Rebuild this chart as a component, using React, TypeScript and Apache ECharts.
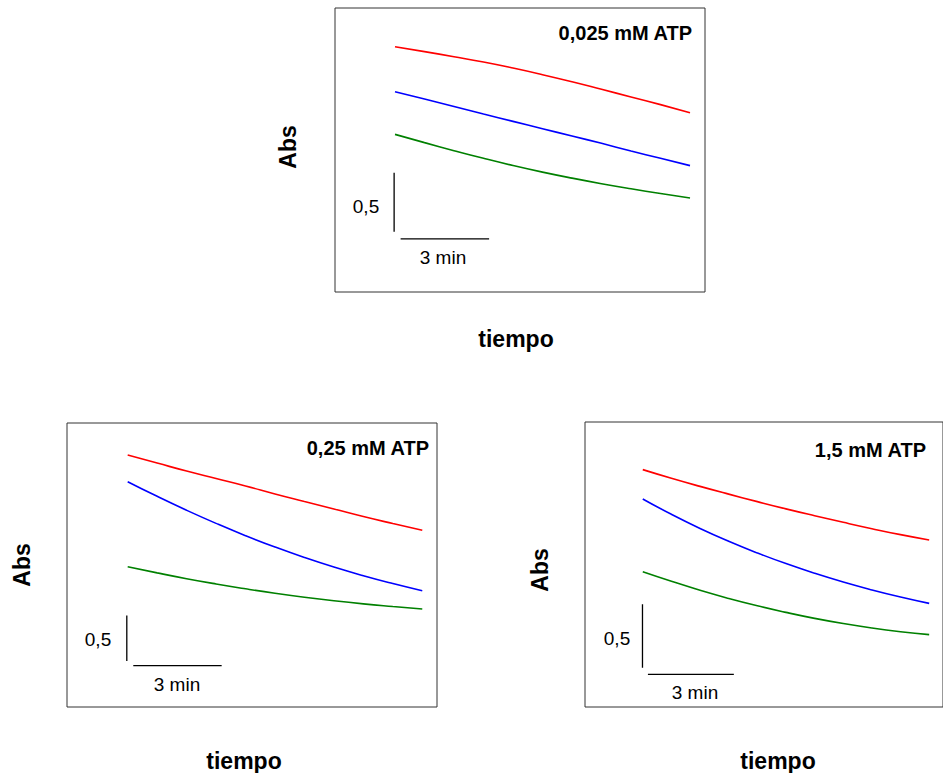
import React, { useEffect, useRef } from "react";
import * as echarts from "echarts";

// Sampling times (min) for every trace
const TIME = [0, 1, 2, 3, 4, 5, 6, 7, 8, 9, 10];

// 0,025 mM ATP
const ATP_0025_RED = [2.079, 2.037, 1.994, 1.949, 1.898, 1.842, 1.782, 1.718, 1.653, 1.588, 1.52];
const ATP_0025_BLUE = [1.698, 1.636, 1.573, 1.508, 1.446, 1.384, 1.322, 1.26, 1.195, 1.133, 1.071];
const ATP_0025_GREEN = [1.336, 1.266, 1.198, 1.133, 1.072, 1.016, 0.965, 0.918, 0.875, 0.835, 0.797];

// 0,25 mM ATP
const ATP_025_RED = [2.769, 2.681, 2.593, 2.511, 2.429, 2.341, 2.258, 2.176, 2.093, 2.016, 1.942];
const ATP_025_BLUE = [2.476, 2.315, 2.162, 2.018, 1.883, 1.758, 1.643, 1.538, 1.443, 1.357, 1.278];
const ATP_025_GREEN = [1.542, 1.474, 1.41, 1.352, 1.299, 1.25, 1.206, 1.167, 1.133, 1.104, 1.077];

// 1,5 mM ATP
const ATP_15_RED = [1.869, 1.801, 1.737, 1.676, 1.617, 1.56, 1.506, 1.454, 1.404, 1.357, 1.315];
const ATP_15_BLUE = [1.638, 1.517, 1.406, 1.305, 1.213, 1.129, 1.053, 0.984, 0.922, 0.866, 0.816];
const ATP_15_GREEN = [1.065, 0.99, 0.919, 0.855, 0.797, 0.745, 0.698, 0.657, 0.622, 0.593, 0.57];

const TITLES = ["0,025 mM ATP", "0,25 mM ATP", "1,5 mM ATP"];

// Scale bar sizes
const SCALE_ABS = 0.5;
const SCALE_MIN = 3;
const SCALE_ABS_LABEL = "0,5";
const SCALE_MIN_LABEL = "3 min";

const COLORS = ["#ff0000", "#0000ff", "#008000"];
const FONT = "'Liberation Sans', Arial, Helvetica, sans-serif";

type Panel = {
  grid: { left: number; top: number; width: number; height: number };
  xr: [number, number];
  yr: [number, number];
  traces: number[][];
  bar: { tv: number; a0: number; th: number; ah: number };
  title: [number, number];
  absLbl: [number, number];
  timeLbl: [number, number];
  scaleAbsLbl: [number, number];
  scaleMinLbl: [number, number];
};

const PANELS: Panel[] = [
  {
    grid: { left: 335, top: 8, width: 370, height: 284 },
    xr: [-2.034, 10.508],
    yr: [0, 2.407],
    traces: [ATP_0025_RED, ATP_0025_BLUE, ATP_0025_GREEN],
    bar: { tv: -0.03, a0: 0.51, th: 0.19, ah: 0.45 },
    title: [692, 33],
    absLbl: [288, 147],
    timeLbl: [516, 339],
    scaleAbsLbl: [366, 206],
    scaleMinLbl: [443, 257],
  },
  {
    grid: { left: 67, top: 423, width: 370, height: 284 },
    xr: [-2.06, 10.5],
    yr: [0, 3.121],
    traces: [ATP_025_RED, ATP_025_BLUE, ATP_025_GREEN],
    bar: { tv: -0.03, a0: 0.505, th: 0.19, ah: 0.454 },
    title: [429, 448],
    absLbl: [22, 565],
    timeLbl: [244, 761],
    scaleAbsLbl: [98, 639],
    scaleMinLbl: [177, 684],
  },
  {
    grid: { left: 585, top: 422, width: 370, height: 285 },
    xr: [-2.017, 10.483],
    yr: [0, 2.244],
    traces: [ATP_15_RED, ATP_15_BLUE, ATP_15_GREEN],
    bar: { tv: -0.01, a0: 0.31, th: 0.18, ah: 0.257 },
    title: [926, 450],
    absLbl: [540, 570],
    timeLbl: [778, 761],
    scaleAbsLbl: [617, 638],
    scaleMinLbl: [695, 692],
  },
];

function buildOption() {
  const grid: any[] = [];
  const xAxis: any[] = [];
  const yAxis: any[] = [];
  const series: any[] = [];
  const graphic: any[] = [];

  PANELS.forEach((p, i) => {
    grid.push({
      ...p.grid,
      show: true,
      borderColor: "#333",
      borderWidth: 1,
      backgroundColor: "transparent",
      containLabel: false,
    });
    xAxis.push({ type: "value", gridIndex: i, min: p.xr[0], max: p.xr[1], show: false });
    yAxis.push({ type: "value", gridIndex: i, min: p.yr[0], max: p.yr[1], show: false });

    p.traces.forEach((vals, k) => {
      series.push({
        type: "line",
        xAxisIndex: i,
        yAxisIndex: i,
        data: TIME.map((t, j) => [t, vals[j]]),
        showSymbol: false,
        smooth: 0.5,
        lineStyle: { color: COLORS[k], width: 1.6 },
        silent: true,
      });
    });

    // vertical scale bar (absorbance)
    series.push({
      type: "line",
      xAxisIndex: i,
      yAxisIndex: i,
      data: [
        [p.bar.tv, p.bar.a0],
        [p.bar.tv, p.bar.a0 + SCALE_ABS],
      ],
      showSymbol: false,
      lineStyle: { color: "#000", width: 1.3 },
      silent: true,
    });
    // horizontal scale bar (time)
    series.push({
      type: "line",
      xAxisIndex: i,
      yAxisIndex: i,
      data: [
        [p.bar.th, p.bar.ah],
        [p.bar.th + SCALE_MIN, p.bar.ah],
      ],
      showSymbol: false,
      lineStyle: { color: "#000", width: 1.3 },
      silent: true,
    });

    graphic.push(
      {
        type: "text",
        x: p.title[0],
        y: p.title[1],
        style: {
          text: TITLES[i],
          font: `bold 20px ${FONT}`,
          fill: "#000",
          align: "right",
          verticalAlign: "middle",
        },
      },
      {
        type: "text",
        x: p.absLbl[0],
        y: p.absLbl[1],
        rotation: Math.PI / 2,
        style: {
          text: "Abs",
          font: `bold 23px ${FONT}`,
          fill: "#000",
          align: "center",
          verticalAlign: "middle",
        },
      },
      {
        type: "text",
        x: p.timeLbl[0],
        y: p.timeLbl[1],
        style: {
          text: "tiempo",
          font: `bold 23px ${FONT}`,
          fill: "#000",
          align: "center",
          verticalAlign: "middle",
        },
      },
      {
        type: "text",
        x: p.scaleAbsLbl[0],
        y: p.scaleAbsLbl[1],
        style: {
          text: SCALE_ABS_LABEL,
          font: `19px ${FONT}`,
          fill: "#000",
          align: "center",
          verticalAlign: "middle",
        },
      },
      {
        type: "text",
        x: p.scaleMinLbl[0],
        y: p.scaleMinLbl[1],
        style: {
          text: SCALE_MIN_LABEL,
          font: `19px ${FONT}`,
          fill: "#000",
          align: "center",
          verticalAlign: "middle",
        },
      }
    );
  });

  return {
    animation: false,
    backgroundColor: "#fff",
    grid,
    xAxis,
    yAxis,
    series,
    graphic,
  };
}

export default function App() {
  const ref = useRef<HTMLDivElement>(null);

  useEffect(() => {
    if (!ref.current) return;
    const chart = echarts.init(ref.current, undefined, { renderer: "svg" });
    chart.setOption(buildOption());
    return () => chart.dispose();
  }, []);

  return (
    <div
      ref={ref}
      style={{ position: "absolute", left: 0, top: 0, width: 943, height: 773 }}
    />
  );
}
